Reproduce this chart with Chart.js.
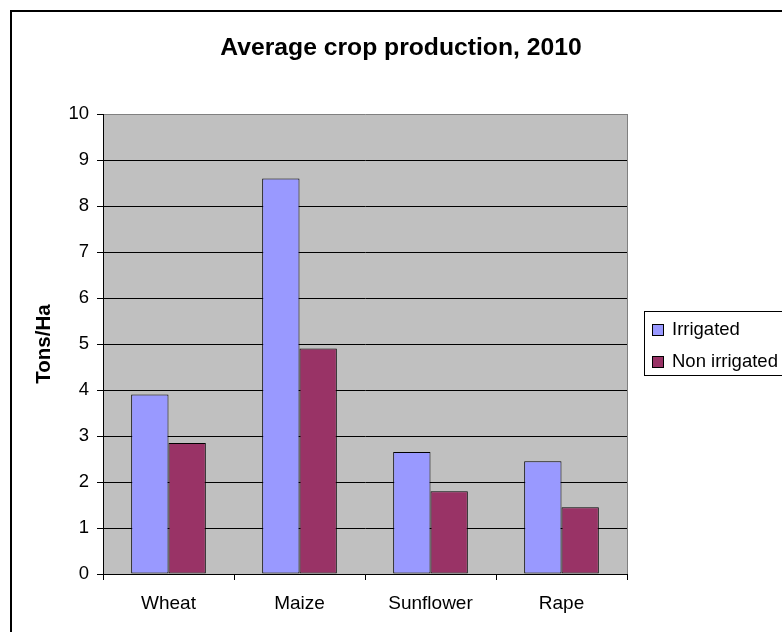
<!DOCTYPE html>
<html>
<head>
<meta charset="utf-8">
<script src="https://cdn.jsdelivr.net/npm/chart.js@4.4.1/dist/chart.umd.min.js"></script>
<style>
  body { margin: 0; background: #fff; overflow: hidden; }
  canvas { display: block; }
</style>
</head>
<body>
<canvas id="crop-chart" width="782" height="632"></canvas>
<script>
var categories = ["Wheat", "Maize", "Sunflower", "Rape"];
var irrigated = [3.9, 8.6, 2.65, 2.45];
var nonIrrigated = [2.85, 4.9, 1.8, 1.45];
var seriesNames = ["Irrigated", "Non irrigated"];
var seriesColors = ["#9999FF", "#993366"];
var chartTitle = "Average crop production, 2010";
var yTitle = "Tons/Ha";
var yMin = 0, yMax = 10, yStep = 1;

var FONT = "'Liberation Sans', Arial, sans-serif";

// background, outer frame, title and the boxed legend on the right
var excelLook = {
    id: 'excelLook',
    beforeDraw: function(chart) {
        var ctx = chart.ctx, a = chart.chartArea;
        ctx.save();
        ctx.fillStyle = '#fff';
        ctx.fillRect(0, 0, chart.width, chart.height);
        ctx.strokeStyle = '#000';
        ctx.lineWidth = 2;
        ctx.beginPath();
        ctx.moveTo(11, chart.height + 2);
        ctx.lineTo(11, 11);
        ctx.lineTo(chart.width + 2, 11);
        ctx.stroke();
        ctx.fillStyle = '#C0C0C0';
        ctx.fillRect(a.left, a.top, a.right - a.left, a.bottom - a.top);
        ctx.restore();
    },
    afterDraw: function(chart) {
        var ctx = chart.ctx, a = chart.chartArea;
        ctx.save();
        // right edge of plot area
        ctx.strokeStyle = '#808080';
        ctx.lineWidth = 1;
        ctx.beginPath();
        ctx.moveTo(Math.round(a.right) + 0.5, a.top);
        ctx.lineTo(Math.round(a.right) + 0.5, a.bottom);
        ctx.stroke();

        // title
        ctx.fillStyle = '#000';
        ctx.font = 'bold 24.7px ' + FONT;
        ctx.textAlign = 'center';
        ctx.textBaseline = 'middle';
        ctx.fillText(chartTitle, 401, 48);

        // legend
        var lx = 644.5, ly = 311.5;
        ctx.strokeStyle = '#000';
        ctx.strokeRect(lx, ly, 170, 64);
        ctx.font = '18.5px ' + FONT;
        ctx.textAlign = 'left';
        chart.data.datasets.forEach(function(ds, i) {
            var cy = 330 + i * 31.5;
            ctx.fillStyle = ds.backgroundColor;
            ctx.fillRect(652, Math.round(cy - 6), 11, 11);
            ctx.strokeRect(652.5, Math.round(cy - 6) + 0.5, 11, 11);
            ctx.fillStyle = '#000';
            ctx.fillText(ds.label, 672, cy);
        });
        ctx.restore();
    }
};

var ctx = document.getElementById("crop-chart");
var cropChart = new Chart(ctx, {
    type: 'bar',
    data: {
        labels: categories,
        datasets: [
            {
                label: seriesNames[0],
                data: irrigated,
                backgroundColor: seriesColors[0],
                borderColor: '#000',
                borderWidth: 1,
                borderSkipped: false
            },
            {
                label: seriesNames[1],
                data: nonIrrigated,
                backgroundColor: seriesColors[1],
                borderColor: '#000',
                borderWidth: 1,
                borderSkipped: false
            }
        ]
    },
    options: {
        responsive: false,
        animation: false,
        layout: {
            padding: { top: 114, right: 155, bottom: 0, left: 0 }
        },
        categoryPercentage: 0.57,
        barPercentage: 1.0,
        plugins: {
            legend: { display: false },
            title: { display: false },
            tooltip: { enabled: false }
        },
        scales: {
            x: {
                grid: {
                    drawOnChartArea: false,
                    drawTicks: true,
                    tickLength: 6,
                    color: '#000'
                },
                border: { display: true, color: '#000', width: 1 },
                ticks: {
                    color: '#000',
                    padding: 12,
                    font: { family: FONT, size: 19 }
                },
                afterFit: function(scale) { scale.height = 58; }
            },
            y: {
                min: yMin,
                max: yMax,
                ticks: {
                    stepSize: yStep,
                    color: '#000',
                    padding: 8,
                    font: { family: FONT, size: 18.5 }
                },
                grid: {
                    color: function(c) { return c.tick && c.tick.value === yMax ? '#808080' : '#000'; },
                    tickColor: '#000',
                    tickLength: 6,
                    lineWidth: 1
                },
                border: { display: true, color: '#000', width: 1 },
                title: {
                    display: true,
                    text: yTitle,
                    color: '#000',
                    padding: { top: 32, bottom: 0 },
                    font: { family: FONT, size: 20.5, weight: 'bold' }
                },
                afterFit: function(scale) { scale.width = 103; }
            }
        }
    },
    plugins: [excelLook]
});
</script>
</body>
</html>
